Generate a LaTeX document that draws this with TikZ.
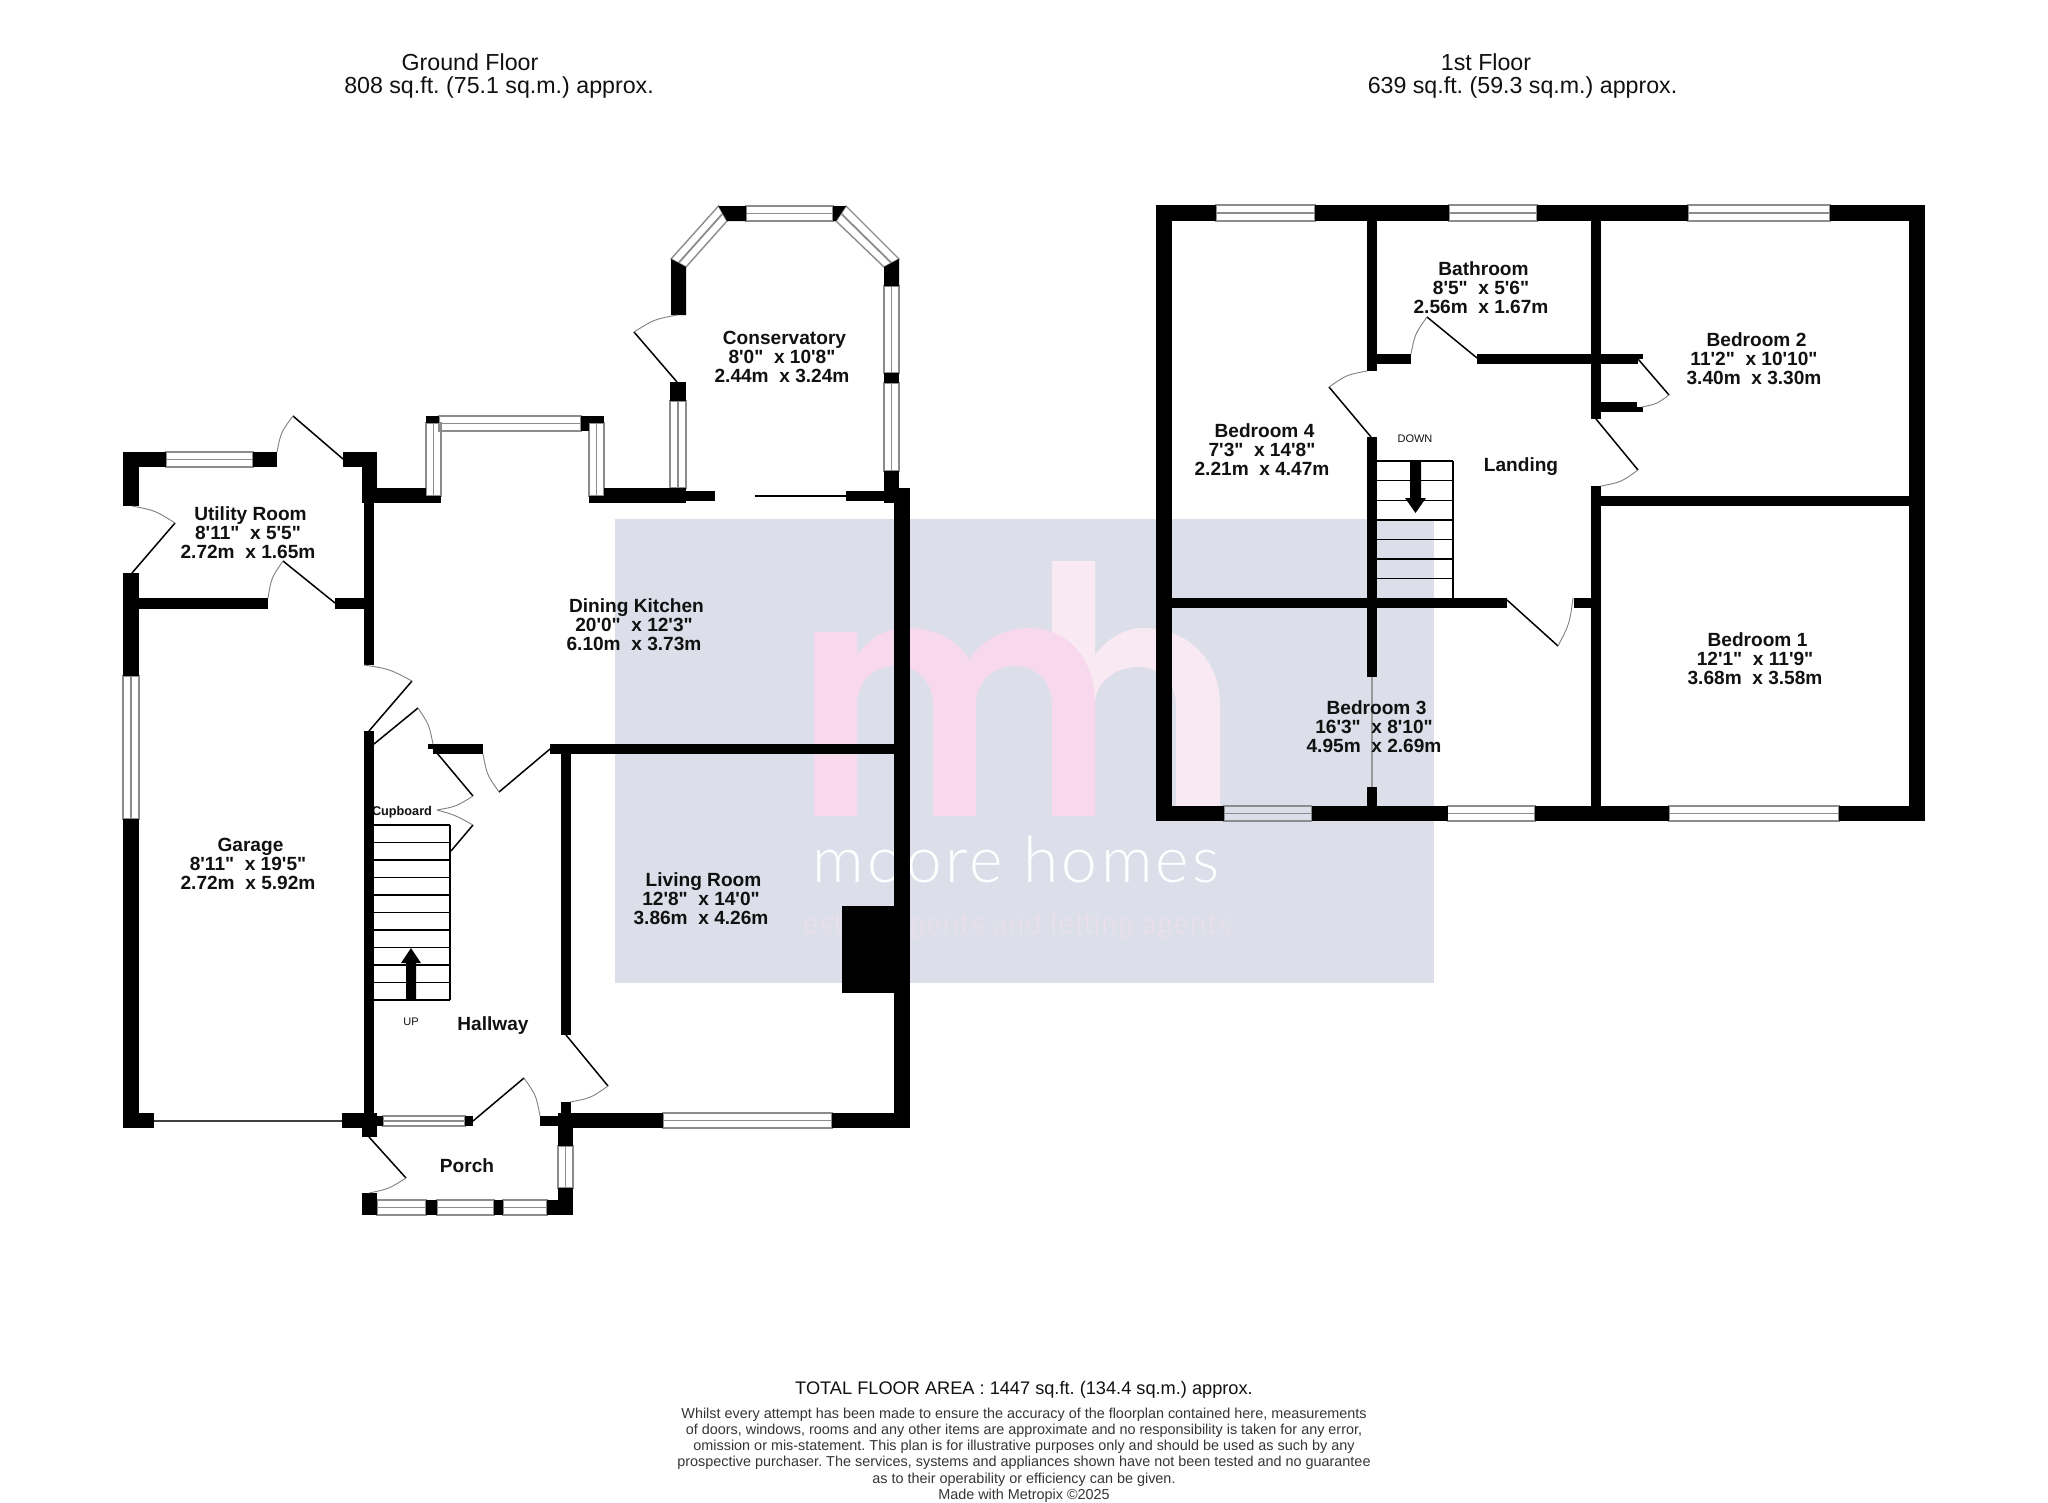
\documentclass[tikz,border=0pt]{standalone}
\usepackage{fontspec}
\usetikzlibrary{calc}
\newfontfamily\lab{Liberation Sans}
\newfontfamily\wm{Lato Light}[LetterSpace=5.2]
\newfontfamily\wmsm{Lato Light}[LetterSpace=6.5]
\definecolor{wmbg}{HTML}{DCDFE9}
\definecolor{wmm}{HTML}{F8D8EC}
\definecolor{wmh}{HTML}{F9E9F2}
\definecolor{wmt}{HTML}{F0E0EB}
\definecolor{glz}{HTML}{8C8C8C}
\definecolor{txt}{HTML}{111111}
\tikzset{
  wall/.style={fill=black,draw=none},
  glass/.style={draw=glz,line width=1.4pt},
  glassmid/.style={draw=glz,line width=1.8pt},
  leaf/.style={draw=black,line width=1.5pt},
  swing/.style={draw=gray,line width=0.9pt},
  tread/.style={draw=black,line width=1.4pt},
  roomlabel/.style={inner sep=0pt,align=center,text=txt,font=\frenchspacing\lab\bfseries\fontsize{19.1}{19}\selectfont},
  plainlabel/.style={inner sep=0pt,align=center,text=txt,font=\frenchspacing\lab\fontsize{23.2}{23.5}\selectfont},
}
\newcommand\wl[4]{\fill[wall] (#1,#2) rectangle (#3,#4);}
\newcommand\hwin[4]{\path[glass] (#1,#3) rectangle (#2,#4); \draw[glassmid] (#1,{(#3+#4)/2}) -- (#2,{(#3+#4)/2});}
\newcommand\vwin[4]{\path[glass] (#1,#3) rectangle (#2,#4); \draw[glassmid] ({(#1+#2)/2},#3) -- ({(#1+#2)/2},#4);}
\newcommand\door[3]{\draw[leaf] #1 -- #2; \draw[swing] #2 .. controls ($#1!1.07!($#2!.5!#3$)$) .. #3;}
\newcommand\room[6]{\node[roomlabel] (#1) at (#2,#3) {\hspace{5pt}#4\\#5\\#6};}
\begin{document}
\begin{tikzpicture}[x=1pt,y=-1pt]
\useasboundingbox (0,0) rectangle (2048,1502);
\fill[white] (0,0) rectangle (2048,1502);
% watermark
\fill[wmbg] (615,519) rectangle (1434,983);
\fill[wmh] (1052,806)--(1052,561)--(1095,561)--(1095,655) .. controls (1108,638) and (1125,628) .. (1143,628) .. controls (1188,628) and (1220,660) .. (1220,705) --(1220,806)--(1176,806)--(1176,705) .. controls (1176,682) and (1160,667) .. (1138,667) .. controls (1115,667) and (1095,682) .. (1095,705) --cycle;
\fill[wmm] (814,816)--(814,632)--(857,632)--(857,655) .. controls (870,638) and (885,628) .. (907,628) .. controls (935,628) and (958,640) .. (969,660) .. controls (982,640) and (1005,628) .. (1028,628) .. controls (1070,628) and (1095,660) .. (1095,705) -- (1095,816)--(1052,816)--(1052,705) .. controls (1052,682) and (1037,666) .. (1014,666) .. controls (992,666) and (976,682) .. (976,705) --(976,816)--(933,816)--(933,705) .. controls (933,682) and (918,666) .. (895,666) .. controls (873,666) and (857,682) .. (857,705) -- (857,816)--cycle;
\node[inner sep=0pt,text=white,font=\wm\fontsize{64}{64}\selectfont] (wmname) at (1016,859) {moore homes};
\node[inner sep=0pt,text=wmt,font=\wmsm\fontsize{28}{28}\selectfont] (wmsub) at (1017,926) {estate agents and letting agents};
% text hidden partly by wall
\node[inner sep=0pt,text=txt,font=\lab\bfseries\fontsize{12.7}{13}\selectfont] (cupboard) at (402,812) {Cupboard};

% ===== GROUND FLOOR windows
\hwin{166}{253}{452}{467}
\vwin{123}{139}{676}{819}
\vwin{426}{441}{423}{496}
\hwin{439}{581}{416}{431}
\vwin{589}{604}{423}{496}
\vwin{670}{686}{401}{488}
\path[glass] (671,259)--(718.5,206)--(727,221)--(686,267)--cycle;
\draw[glassmid] (678.5,263)--(722.7,213.5);
\hwin{746}{833}{206}{221}
\path[glass] (846,206)--(899,259)--(884,267)--(836,221)--cycle;
\draw[glassmid] (841,213.5)--(891.5,263);
\vwin{884}{899}{286}{373}
\vwin{884}{899}{383}{471}
\hwin{383}{465}{1116}{1126}
\hwin{663}{832}{1113}{1128}
\vwin{558}{573}{1146}{1188}
\hwin{377}{426}{1200}{1215}
\hwin{437}{494}{1200}{1215}
\hwin{503}{547}{1200}{1215}
% ===== GROUND FLOOR walls
\wl{123}{452}{166}{467}
\wl{123}{452}{139}{506}
\wl{253}{452}{277}{467}
\wl{343}{452}{377}{467}
\wl{362}{452}{377}{503}
\wl{362}{488}{426}{503}
\wl{426}{496}{441}{503}
\wl{426}{416}{439}{423}
\wl{581}{416}{604}{423}
\wl{581}{416}{589}{431}
\wl{589}{496}{604}{503}
\wl{604}{488}{686}{503}
\wl{686}{491}{715}{501}
\wl{846}{491}{884}{501}
\wl{884}{471}{899}{503}
\wl{894}{488}{910}{1128}
\wl{842}{906}{895}{993}
\fill[wall] (671,259)--(686,267)--(686,315)--(671,315)--cycle;
\wl{670}{382}{686}{401}
\fill[wall] (718.5,206)--(746,206)--(746,221)--(727,221)--cycle;
\fill[wall] (833,206)--(846,206)--(836,221)--(833,221)--cycle;
\fill[wall] (899,259)--(899,286)--(884,286)--(884,267)--cycle;
\wl{884}{373}{899}{383}
\wl{364}{503}{374}{665}
\wl{364}{731}{374}{1113}
\wl{123}{573}{139}{676}
\wl{139}{598}{268}{609}
\wl{335}{598}{364}{609}
\wl{123}{819}{139}{1128}
\wl{139}{1113}{154}{1128}
\wl{342}{1113}{377}{1128}
\wl{362}{1113}{377}{1137}
\wl{377}{1116}{383}{1126}
\wl{465}{1116}{473}{1126}
\wl{433}{744}{483}{754}
\wl{428}{744}{433}{749}
\wl{550}{744}{895}{754}
\wl{561}{754}{571}{1035}
\wl{561}{1102}{571}{1113}
\wl{540}{1116}{558}{1126}
\wl{558}{1113}{573}{1146}
\wl{573}{1113}{663}{1128}
\wl{832}{1113}{895}{1128}
\wl{362}{1193}{377}{1215}
\wl{426}{1200}{437}{1215}
\wl{494}{1200}{503}{1215}
\wl{547}{1200}{573}{1215}
\wl{558}{1188}{573}{1215}
\draw[draw=black!75,line width=2pt] (154,1121) -- (342,1121);
\draw[leaf] (755,496) -- (846,496);
% stairs up
\draw[tread] (450,825) -- (450,1000);
\foreach \i in {0,...,10} {\draw[tread] (372,{825+17.5*\i}) -- (450,{825+17.5*\i});}
\fill[wall] (406,1000)--(406,963)--(401,963)--(411,948)--(421,963)--(416,963)--(416,1000)--cycle;
% doors
\door{(343,459)}{(293,416)}{(277,452)}
\door{(132,573)}{(175,523)}{(132,506)}
\door{(335,603)}{(283,561)}{(268,598)}
\door{(369,731)}{(412,681)}{(364,665)}
\door{(374,744)}{(418,708)}{(433,744)}
\door{(437,753)}{(473,796)}{(437,810)}
\door{(451,851)}{(473,825)}{(437,810)}
\door{(550,749)}{(499,792)}{(483,754)}
\door{(566,1035)}{(608,1086)}{(570,1102)}
\door{(473,1121)}{(524,1078)}{(540,1116)}
\door{(369,1137)}{(406,1178)}{(369,1193)}
\door{(677,382)}{(634,332)}{(677,315)}

% ===== FIRST FLOOR windows
\hwin{1216}{1315}{205}{221}
\hwin{1449}{1537}{205}{221}
\hwin{1688}{1830}{205}{221}
\hwin{1224}{1311.5}{806}{821}
\hwin{1447.5}{1535}{806}{821}
\hwin{1669}{1839}{806}{821}
% walls
\wl{1156}{205}{1216}{221}
\wl{1315}{205}{1449}{221}
\wl{1537}{205}{1688}{221}
\wl{1830}{205}{1925}{221}
\wl{1156}{205}{1172}{821}
\wl{1909}{205}{1925}{821}
\wl{1156}{806}{1224}{821}
\wl{1311.5}{806}{1447.5}{821}
\wl{1535}{806}{1669}{821}
\wl{1839}{806}{1925}{821}
\wl{1367}{221}{1377}{371}
\wl{1377}{354}{1411}{364}
\wl{1477}{354}{1638}{364}
\wl{1638}{354}{1643}{359}
\wl{1591}{221}{1601}{419}
\wl{1601}{402}{1637}{412}
\wl{1632}{407}{1643}{412}
\wl{1591}{486}{1601}{806}
\wl{1601}{496}{1909}{506}
\wl{1367}{437}{1377}{677}
\wl{1367}{787}{1377}{806}
\wl{1172}{598}{1507}{608}
\wl{1574}{598}{1591}{608}
\draw[draw=black!40,line width=1.3pt] (1372,677) -- (1372,787);
% stairs down
\draw[tread] (1453,461) -- (1453,598);
\foreach \i in {0,...,6} {\draw[tread] (1377,{461+19.6*\i}) -- (1453,{461+19.6*\i});}
\fill[wall] (1410,461)--(1410,498)--(1405,498)--(1415.5,513)--(1426,498)--(1421,498)--(1421,461)--cycle;
% doors
\door{(1477,358)}{(1427,317)}{(1411,354)}
\door{(1371,437)}{(1329,387)}{(1367,371)}
\door{(1638,359)}{(1669,395)}{(1642,407)}
\door{(1596,419)}{(1638,470)}{(1601,486)}
\door{(1507,600)}{(1558,646)}{(1573,598)}

% ===== labels
\room{utility}{248}{533}{Utility Room}{8'11"\ \ x 5'5"}{2.72m\ \ x 1.65m}
\room{garage}{248}{864}{Garage}{8'11"\ \ x 19'5"}{2.72m\ \ x 5.92m}
\room{dining}{634}{625}{Dining Kitchen}{20'0"\ \ x 12'3"}{6.10m\ \ x 3.73m}
\room{conserv}{782}{357}{Conservatory}{8'0"\ \ x 10'8"}{2.44m\ \ x 3.24m}
\room{living}{701}{899}{Living Room}{12'8"\ \ x 14'0"}{3.86m\ \ x 4.26m}
\node[roomlabel] (hallway) at (493,1026) {Hallway};
\node[roomlabel] (porch) at (467,1166) {Porch};
\node[inner sep=0pt,text=txt,font=\lab\fontsize{11}{12}\selectfont] (up) at (411,1022) {UP};
\room{bath}{1481}{288}{Bathroom}{8'5"\ \ x 5'6"}{2.56m\ \ x 1.67m}
\room{bedfour}{1262}{450}{Bedroom 4}{7'3"\ \ x 14'8"}{2.21m\ \ x 4.47m}
\room{bedthree}{1374}{727}{Bedroom 3}{16'3"\ \ x 8'10"}{4.95m\ \ x 2.69m}
\room{bedtwo}{1754}{359}{Bedroom 2}{11'2"\ \ x 10'10"}{3.40m\ \ x 3.30m}
\room{bedone}{1755}{659}{Bedroom 1}{12'1"\ \ x 11'9"}{3.68m\ \ x 3.58m}
\node[roomlabel] (landing) at (1521,467) {Landing};
\node[inner sep=0pt,text=txt,font=\lab\fontsize{11}{12}\selectfont] (down) at (1415,439) {DOWN};
% headings
\node[plainlabel] (gfa) at (470,62.5) {Ground Floor};
\node[plainlabel] (gfb) at (499,87) {808 sq.ft. (75.1 sq.m.) approx.};
\node[plainlabel] (ffa) at (1486,62.5) {1st Floor};
\node[plainlabel] (ffb) at (1522.5,87) {639 sq.ft. (59.3 sq.m.) approx.};
\node[inner sep=0pt,text=txt,font=\frenchspacing\lab\fontsize{18.2}{20}\selectfont] (total) at (1024,1390) {TOTAL FLOOR AREA : 1447 sq.ft. (134.4 sq.m.) approx.};
\node[inner sep=0pt,align=center,text=txt!85,font=\frenchspacing\lab\fontsize{14.4}{16.1}\selectfont,anchor=north] (disc) at (1024,1408) {Whilst every attempt has been made to ensure the accuracy of the floorplan contained here, measurements\\of doors, windows, rooms and any other items are approximate and no responsibility is taken for any error,\\omission or mis-statement. This plan is for illustrative purposes only and should be used as such by any\\prospective purchaser. The services, systems and appliances shown have not been tested and no guarantee\\as to their operability or efficiency can be given.\\Made with Metropix \textcopyright 2025};
\end{tikzpicture}
\end{document}
